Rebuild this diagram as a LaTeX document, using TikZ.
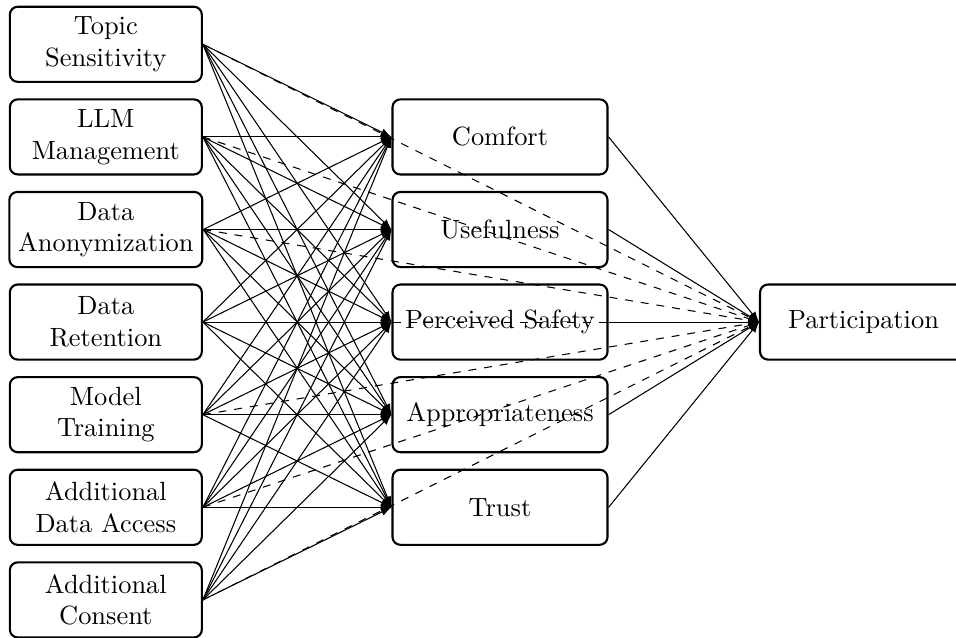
\documentclass[tikz,border=0pt]{standalone}
\usetikzlibrary{arrows}

\begin{document}
\begin{tikzpicture}[
  factor/.style={draw, thick, rounded corners=3pt, align=center, minimum width=2.556cm, minimum height=1cm},
  mediator/.style={factor, minimum width=2.863cm},
  outcome/.style={factor, minimum width=2.756cm},
  effect/.style={->, >=latex},
  direct/.style={effect, dashed}]
\useasboundingbox (0,0) rectangle (12.728,-8.494);

\node[factor] (topic) at (1.409,-0.590) {Topic\\Sensitivity};
\node[factor] (llm) at (1.409,-1.823) {LLM\\Management};
\node[factor] (anon) at (1.409,-3.056) {Data\\Anonymization};
\node[factor] (retention) at (1.409,-4.288) {Data\\Retention};
\node[factor] (training) at (1.409,-5.521) {Model\\Training};
\node[factor] (access) at (1.409,-6.754) {Additional\\Data Access};
\node[factor] (consent) at (1.409,-7.987) {Additional\\Consent};

\node[mediator] (comfort) at (6.657,-1.823) {Comfort};
\node[mediator] (usefulness) at (6.657,-3.056) {Usefulness};
\node[mediator] (safety) at (6.657,-4.288) {Perceived Safety};
\node[mediator] (appropriateness) at (6.657,-5.521) {Appropriateness};
\node[mediator] (trust) at (6.657,-6.754) {Trust};

\node[outcome] (participation) at (11.497,-4.288) {Participation};

\foreach \f in {topic,llm,anon,retention,training,access,consent} {
  \foreach \m in {comfort,usefulness,safety,appropriateness,trust}
    \draw[effect] (\f.east) -- (\m.west);
  \draw[direct] (\f.east) -- (participation.west);
}

\foreach \m in {comfort,usefulness,safety,appropriateness,trust}
  \draw[effect] (\m.east) -- (participation.west);
\end{tikzpicture}
\end{document}
